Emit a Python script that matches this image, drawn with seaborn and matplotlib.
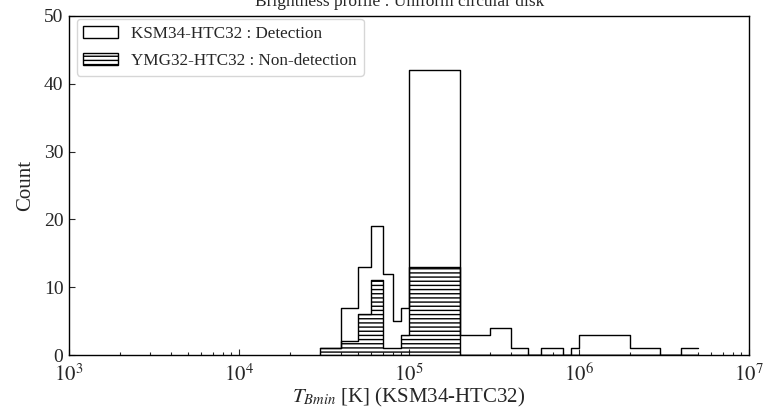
import numpy as np
import pandas as pd
import matplotlib
matplotlib.use("Agg")
import matplotlib.pyplot as plt
from matplotlib.patches import Patch
from matplotlib.ticker import FuncFormatter
import seaborn as sns

# Bin edges (K) and counts per bin
bin_edges = [3e4, 4e4, 5e4, 6e4, 7e4, 8e4, 9e4, 1e5, 2e5, 3e5, 4e5, 5e5,
             6e5, 7e5, 8e5, 9e5, 1e6, 2e6, 3e6, 4e6, 5e6]
det_counts = [1, 7, 13, 19, 12, 5, 7, 42, 3, 4, 1, 0, 1, 1, 0, 1, 3, 1, 0, 1]
nondet_counts = [1, 2, 6, 11, 1, 1, 3, 13, 0, 0, 0, 0, 0, 0, 0, 0, 0, 0, 0, 0]
labels = ["KSM34-HTC32 : Detection", "YMG32-HTC32 : Non-detection"]
title = "Brightness profile : Uniform circular disk"
xlabel = "$T_{Bmin}$ [K] (KSM34-HTC32)"
ylabel = "Count"
yticks = [0, 10, 20, 30, 40, 50]

sns.set_style("white")
plt.rcParams["font.family"] = ["Liberation Serif", "DejaVu Serif"]
plt.rcParams["mathtext.fontset"] = "stix"
plt.rcParams["hatch.linewidth"] = 1.0

edges = np.array(bin_edges)
mids = np.sqrt(edges[:-1] * edges[1:])
df_det = pd.DataFrame({"T": mids, "w": det_counts})
df_non = pd.DataFrame({"T": mids, "w": nondet_counts})

fig = plt.figure(figsize=(7.69, 4.09), dpi=100)
ax = fig.add_axes([69 / 769, 1 - 355 / 409, (749 - 69) / 769, (355 - 16) / 409])

sns.histplot(data=df_det, x="T", weights="w", bins=list(bin_edges), element="step",
             fill=False, color="black", linewidth=1.0, ax=ax)
sns.histplot(data=df_non, x="T", weights="w", bins=list(bin_edges), element="step",
             fill=True, color="black", linewidth=1.0, alpha=1, ax=ax)
for coll in ax.collections:
    coll.set_facecolor("none")
    coll.set_edgecolor("black")
    coll.set_hatch("----")

ax.set_xscale("log")
ax.set_xlim(1e3, 1e7)
ax.set_ylim(0, 50)
ax.set_yticks(yticks)
ax.xaxis.set_major_formatter(
    FuncFormatter(lambda v, p: "$10^{%d}$" % int(round(np.log10(v)))))
ax.tick_params(axis="both", which="both", direction="in",
               bottom=True, left=True, top=False, right=False)
ax.tick_params(axis="y", which="major", length=4, width=0.8, labelsize=14, pad=4)
ax.tick_params(axis="x", which="major", length=4, width=0.8, labelsize=15, pad=6.5)
ax.tick_params(axis="x", which="minor", length=2.5, width=0.8)
ax.set_xlabel(xlabel, fontsize=15, labelpad=0)
ax.set_ylabel(ylabel, fontsize=15, labelpad=6)
for sp in ax.spines.values():
    sp.set_color("black")
    sp.set_linewidth(1.0)

handles = [Patch(facecolor="white", edgecolor="black", linewidth=1.0),
           Patch(facecolor="white", edgecolor="black", linewidth=1.0, hatch="----")]
ax.legend(handles, labels, loc="upper left", fontsize=12.3, frameon=True,
          bbox_to_anchor=(7.5 / 680, 1 - 3 / 339), borderaxespad=0,
          labelspacing=0.65)

fig.text(0.52, 1 - 5.5 / 409, title, ha="center", va="baseline", fontsize=12.5)

fig.savefig("out.png", dpi=100)
